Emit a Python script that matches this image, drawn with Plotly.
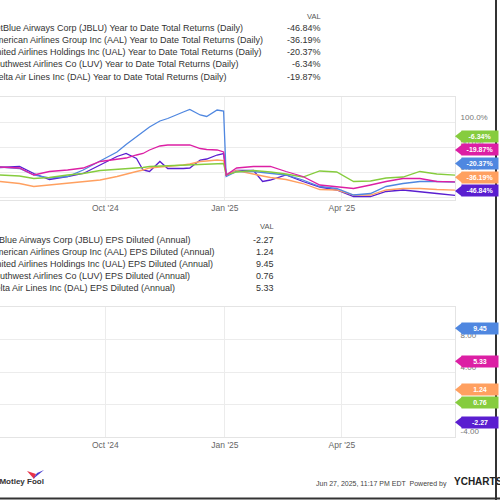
import plotly.graph_objects as go
from plotly.subplots import make_subplots

# YTD total return readings (%), shared dates for all five airlines
dates = [
    "2024-07-12", "2024-07-27", "2024-08-07", "2024-08-19", "2024-09-02", "2024-09-14",
    "2024-09-27", "2024-10-10", "2024-10-17", "2024-10-25", "2024-10-30", "2024-11-04",
    "2024-11-12", "2024-11-18", "2024-11-30", "2024-12-05", "2024-12-13", "2024-12-18",
    "2024-12-26", "2024-12-31", "2025-01-02", "2025-01-10", "2025-01-23", "2025-01-30",
    "2025-02-05", "2025-02-17", "2025-03-02", "2025-03-15", "2025-03-28", "2025-04-10",
    "2025-04-23", "2025-05-05", "2025-05-18", "2025-05-31", "2025-06-13", "2025-06-27",
]
jblu_ytd = [9, 11, -3, -15, -9, -3, 14, 31, 37, 27, 4, 1, 21, 7, 7, 8, 24, 26, 34, 37,
            -6, 3, 3, -19, -16, -6, -19, -30, -36, -49, -49, -39, -36, -39, -43, -46.84]
aal_ytd = [-19, -23, -29, -26, -23, -19, -16, -9, -5, 1, 4, 8, 10, 11, 14, 16, 21, 22, 24, 23,
           -6, 3, -5, -8, -11, -15, -23, -35, -36, -46, -46, -36, -33, -33, -35, -36.19]
ual_ytd = [10, 7, -6, -12, -9, 4, 22, 40, 55, 71, 80, 90, 102, 107, 120, 125, 114, 111, 124, 122,
           -9, 1, 1, -1, -3, -6, -16, -29, -33, -46, -43, -29, -23, -19, -19, -20.37]
luv_ytd = [-6, -8, -13, -11, -6, -3, 3, 5, 6, 8, 9, 11, 12, 12, 14, 14, 16, 16, 17, 17,
           -6, 0, 3, 2, 0, -4, -10, 2, 0, -19, -18, -12, -10, 1, -4, -6.34]
dal_ytd = [10, 8, -6, 1, 4, 8, 21, 25, 28, 34, 37, 44, 52, 54, 54, 54, 47, 45, 44, 40,
           -6, 8, 11, 11, 11, 1, -9, -26, -29, -33, -26, -19, -13, -13, -19, -19.87]

names = ["JetBlue Airways Corp (JBLU)", "American Airlines Group Inc (AAL)",
         "United Airlines Holdings Inc (UAL)", "Southwest Airlines Co (LUV)",
         "Delta Air Lines Inc (DAL)"]
colors = ["#5a1ed0", "#ffa060", "#4f87e0", "#86cc3e", "#dc1fa4"]
eps_annual = [-2.27, 1.24, 9.45, 0.76, 5.33]

ytd_series = [jblu_ytd, aal_ytd, ual_ytd, luv_ytd, dal_ytd]

W, H, R = 500, 500, 45
PW = W - R
FONT = "Liberation Sans"


def px(x):
    return x / PW


def py(y):
    return 1 - y / H


def spread(values, gap, lo):
    # push overlapping end labels apart, keep them above the floor
    order = sorted(range(len(values)), key=lambda i: values[i])
    groups = [[i] for i in order]
    while True:
        spans = []
        for g in groups:
            c = sum(values[i] for i in g) / len(g)
            spans.append((c - (len(g) - 1) * gap / 2, c + (len(g) - 1) * gap / 2))
        hit = None
        for k in range(len(groups) - 1):
            if spans[k + 1][0] - spans[k][1] < gap:
                hit = k
                break
        if hit is None:
            break
        groups[hit] = groups[hit] + groups[hit + 1]
        del groups[hit + 1]
    out = [0] * len(values)
    prev = lo - gap
    for g in groups:
        c = sum(values[i] for i in g) / len(g)
        for j, i in enumerate(g):
            p = max(c + (j - (len(g) - 1) / 2) * gap, prev + gap)
            out[i] = p
            prev = p
    return out


fig = make_subplots(rows=2, cols=1)

for name, color, vals in zip(names, colors, ytd_series):
    fig.add_trace(go.Scatter(x=dates, y=vals, mode="lines", name=name,
                             line=dict(color=color, width=1.3)), row=1, col=1)
fig.add_trace(go.Scatter(x=[], y=[], showlegend=False), row=2, col=1)

xr = ["2024-07-12", "2025-06-27"]
fig.update_xaxes(type="date", range=xr, tickformat="%b '%y", dtick="M3", tick0="2024-01-01",
                 showgrid=True, gridcolor="#ececec", gridwidth=1, showline=True,
                 linecolor="#e4e4e4", mirror=True, ticks="",
                 tickfont=dict(family=FONT, size=8.5, color="#666"))
fig.update_yaxes(side="right", showgrid=True, gridcolor="#ececec", showline=True,
                 linecolor="#e4e4e4", mirror=True, zeroline=False, ticks="",
                 ticklabelshift=-5, ticklabelstandoff=3,
                 tickfont=dict(family=FONT, size=8, color="#777"))

top_ticks = [-50, 0, 50, 100]
bot_ticks = [-4, 0, 4, 8]
fig.update_layout(
    width=W, height=H,
    margin=dict(l=0, r=R, t=0, b=0),
    paper_bgcolor="white", plot_bgcolor="white",
    showlegend=False,
    xaxis=dict(domain=[0, 1]),
    xaxis2=dict(domain=[0, 1]),
    yaxis=dict(domain=[py(200), py(97)], range=[-56, 150], tickvals=top_ticks,
               ticktext=[f"{v:.1f}%" for v in top_ticks]),
    yaxis2=dict(domain=[py(437), py(307)], range=[-4.1, 12.1], tickvals=bot_ticks,
                ticktext=[f"{v:.2f}" for v in bot_ticks]),
)

ann = []
shapes = []

# legend tables: right ends of the name texts and rows, in pixels
ends_top = [245, 265, 263, 240, 228]
ends_bot = [193, 217, 215, 192, 177]
top_rows = [28, 40, 52, 64, 77]
bot_rows = [240, 252, 264, 276, 288]
ann.append(dict(x=px(323), y=py(16), text="VAL", xanchor="right"))
ann.append(dict(x=px(276), y=py(227), text="VAL", xanchor="right"))
for name, vals, ypos, e in zip(names, ytd_series, top_rows, ends_top):
    ann.append(dict(x=px(e), y=py(ypos), text=f"{name} Year to Date Total Returns (Daily)",
                    xanchor="right"))
    ann.append(dict(x=px(323), y=py(ypos), text=f"{vals[-1]:.2f}%", xanchor="right"))
for name, v, ypos, e in zip(names, eps_annual, bot_rows, ends_bot):
    ann.append(dict(x=px(e), y=py(ypos), text=f"{name} EPS Diluted (Annual)",
                    xanchor="right"))
    ann.append(dict(x=px(276), y=py(ypos), text=f"{v:.2f}", xanchor="right"))
for a in ann:
    a.update(xref="paper", yref="paper", showarrow=False, yanchor="middle",
             font=dict(family=FONT, size=9, color="#333"))
ann[0]["font"] = dict(family=FONT, size=7.5, color="#555")
ann[1]["font"] = dict(family=FONT, size=7.5, color="#555")


def tags(values, yref, gap, lo, fmt, half):
    pos = spread(values, gap, lo)
    for v, p, c in zip(values, pos, colors):
        ann.append(dict(xref="paper", yref=yref, x=px(461), y=p, xanchor="left",
                        yanchor="middle", showarrow=False, text=f"<b>{fmt(v)}</b>",
                        bgcolor=c, width=34, height=9, borderpad=1,
                        font=dict(family=FONT, size=7, color="white")))
        shapes.append(dict(type="path", xref="paper", yref=yref,
                           path=f"M {px(455)},{p} L {px(462)},{p + half} L {px(462)},{p - half} Z",
                           fillcolor=c, line=dict(width=0)))


tags([s[-1] for s in ytd_series], "y", 27.4, -38, lambda v: f"{v:.2f}%", 11)
tags(eps_annual, "y2", 1.6, -3.0, lambda v: f"{v:.2f}", 0.69)

# footer: Motley Fool mark and text
shapes.append(dict(type="path", xref="paper", yref="paper",
                   path=f"M {px(27)},{py(471)} L {px(34)},{py(479)} L {px(36)},{py(474)} Z",
                   fillcolor="#e8334a", line=dict(width=0)))
shapes.append(dict(type="path", xref="paper", yref="paper",
                   path=f"M {px(33)},{py(479)} L {px(44)},{py(470)} L {px(37)},{py(473)} Z",
                   fillcolor="#4a3fd0", line=dict(width=0)))
ann.append(dict(xref="paper", yref="paper", x=px(46), y=py(488), xanchor="right",
                showarrow=False, text="<b>The Motley Fool</b>",
                font=dict(family=FONT, size=8, color="#333")))
ann.append(dict(xref="paper", yref="paper", x=px(314), y=py(490), xanchor="left",
                showarrow=False, text="Jun 27, 2025, 11:17 PM EDT  Powered by",
                font=dict(family=FONT, size=7, color="#444")))
ann.append(dict(xref="paper", yref="paper", x=px(452), y=py(489), xanchor="left",
                showarrow=False, text="<b>YCHARTS</b>",
                font=dict(family=FONT, size=10, color="#222")))

# screenshot frame at right and bottom
shapes.append(dict(type="line", xref="paper", yref="paper", x0=px(496), x1=px(496),
                   y0=0, y1=1, line=dict(color="#333", width=2)))
shapes.append(dict(type="line", xref="paper", yref="paper", x0=0, x1=px(500),
                   y0=py(498.5), y1=py(498.5), line=dict(color="#333", width=2)))

fig.update_layout(annotations=ann, shapes=shapes)
fig.write_html("out.html", config={"displayModeBar": False},
               post_script="document.body.style.margin='0';")
